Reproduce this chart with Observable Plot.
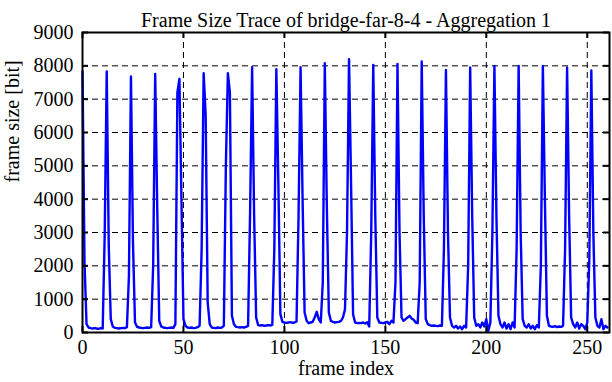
<!DOCTYPE html>
<html>
<head>
<meta charset="utf-8">
<script src="https://cdn.jsdelivr.net/npm/d3@7"></script>
<script src="https://cdn.jsdelivr.net/npm/@observablehq/plot@0.6"></script>
<style>
  html, body { margin: 0; padding: 0; background: #fff; }
</style>
</head>
<body>
<div id="chart"></div>
<script>
const title = "Frame Size Trace of bridge-far-8-4 - Aggregation 1";
const xLabel = "frame index";
const yLabel = "frame size [bit]";
const xTicks = [0, 50, 100, 150, 200, 250];
const yTicks = [0, 1000, 2000, 3000, 4000, 5000, 6000, 7000, 8000, 9000];
const xGrid = [50, 100, 150, 200, 250];
const yGrid = [1000, 2000, 3000, 4000, 5000, 6000, 7000, 8000];

// frame sizes [bit], frames 0..260 (12 per row)
const frameSizes = [
  7830, 2100, 250, 150, 130, 120, 130, 120, 110, 130, 120, 2950,
  7830, 2600, 400, 180, 140, 130, 120, 130, 140, 130, 160, 1700,
  7680, 2700, 300, 170, 150, 140, 130, 140, 150, 140, 160, 2000,
  7760, 3800, 350, 180, 150, 140, 130, 140, 150, 140, 250, 7200,
  7610, 4000, 400, 200, 150, 140, 150, 130, 140, 160, 200, 2500,
  7780, 6500, 900, 250, 150, 140, 130, 150, 140, 150, 200, 5000,
  7780, 7200, 500, 250, 170, 160, 150, 160, 150, 170, 200, 3600,
  7960, 3500, 450, 220, 210, 220, 200, 210, 220, 210, 230, 2500,
  7900, 4500, 550, 320, 300, 290, 300, 310, 290, 300, 330, 3500,
  7960, 4000, 600, 350, 280, 300, 320, 450, 620, 400, 300, 1500,
  8080, 3800, 600, 350, 320, 300, 310, 320, 350, 450, 700, 3000,
  8200, 4500, 550, 300, 280, 290, 280, 300, 270, 310, 180, 3000,
  8030, 3500, 450, 300, 290, 280, 300, 320, 250, 350, 300, 1500,
  8060, 3000, 450, 350, 400, 450, 500, 420, 380, 300, 280, 1500,
  8130, 3500, 400, 250, 220, 200, 210, 200, 190, 210, 200, 2500,
  7880, 3000, 450, 200, 150, 200, 120, 180, 100, 200, 150, 2000,
  7950, 3500, 450, 200, 250, 150, 300, 180, 400, 50, 300, 3000,
  8000, 3500, 500, 250, 150, 300, 120, 250, 100, 300, 150, 2500,
  8000, 3000, 400, 200, 150, 250, 120, 200, 100, 220, 150, 2000,
  8000, 4000, 500, 200, 180, 170, 190, 160, 180, 170, 200, 2500,
  7950, 3500, 450, 250, 150, 300, 120, 250, 200, 100, 300, 2200,
  7860, 3000, 450, 200, 150, 400, 100, 200, 150
];

const data = frameSizes.map((v, i) => ({frame: i, size: v}));

const W = 612, H = 382;
const mL = 82, mR = 3, mT = 32, mB = 50;
const pw = W - mL - mR, ph = H - mT - mB;
const FS = 20;

const chart = Plot.plot({
  width: W,
  height: H,
  marginLeft: mL,
  marginRight: mR,
  marginTop: mT,
  marginBottom: mB,
  style: {fontFamily: "'Liberation Serif', 'Times New Roman', serif", fontSize: FS + "px", background: "#fff", color: "#000"},
  x: {domain: [0, 261], ticks: xTicks},
  y: {domain: [0, 9000], ticks: yTicks},
  marks: [
    Plot.ruleY(yGrid, {stroke: "#000", strokeWidth: 1, strokeDasharray: "6,4"}),
    Plot.ruleX(xGrid, {stroke: "#000", strokeWidth: 1, strokeDasharray: "6,4"}),
    Plot.line(data, {x: "frame", y: "size", stroke: "#0000ff", strokeWidth: 2.4}),
    Plot.ruleY(yTicks, {stroke: "#000", strokeWidth: 2, insetRight: pw - 6}),
    Plot.ruleY(yTicks, {stroke: "#000", strokeWidth: 2, insetLeft: pw - 6}),
    Plot.ruleX(xTicks, {stroke: "#000", strokeWidth: 2, insetTop: ph - 6}),
    Plot.ruleX(xTicks, {stroke: "#000", strokeWidth: 2, insetBottom: ph - 6}),
    Plot.frame({stroke: "#000", strokeWidth: 2}),
    Plot.axisX(xTicks, {tickSize: 0, tickPadding: 7, label: null, fontSize: FS, tickFormat: d3.format("d")}),
    Plot.axisY(yTicks, {tickSize: 0, tickPadding: 9, label: null, fontSize: FS, tickFormat: d3.format("d")}),
    Plot.text([xLabel], {frameAnchor: "bottom", dy: 42, fontSize: FS}),
    Plot.text([yLabel], {frameAnchor: "left", dx: -70, rotate: -90, fontSize: FS}),
    Plot.text([title], {frameAnchor: "top", dy: -20, fontSize: FS})
  ]
});
document.getElementById("chart").appendChild(chart);
</script>
</body>
</html>
